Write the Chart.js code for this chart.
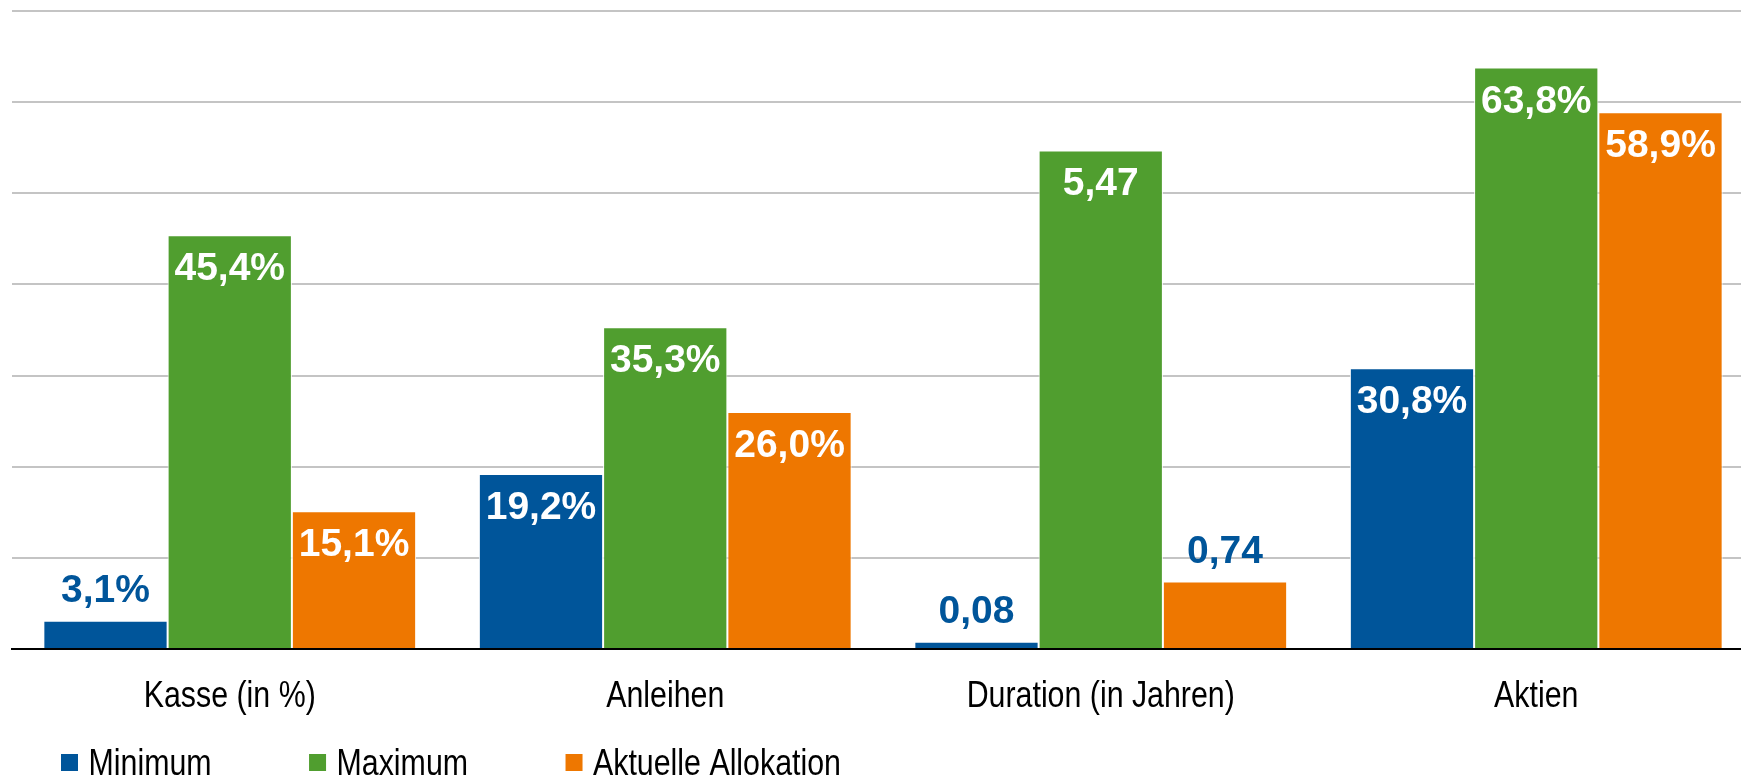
<!DOCTYPE html>
<html>
<head>
<meta charset="utf-8">
<script src="https://cdn.jsdelivr.net/npm/chart.js@4/dist/chart.umd.min.js"></script>
<style>
  html, body { margin: 0; padding: 0; background: #ffffff; overflow: hidden; }
  #wrap { width: 1741px; height: 778px; overflow: hidden; }
  canvas { display: block; }
</style>
</head>
<body>
<div id="wrap"><canvas id="c" width="1754" height="778"></canvas></div>
<script>
// ---- data ----
const categories = ['Kasse (in %)', 'Anleihen', 'Duration (in Jahren)', 'Aktien'];
const seriesNames = ['Minimum', 'Maximum', 'Aktuelle Allokation'];
const minimum = [3.1, 19.2, 0.08, 30.8];
const maximum = [45.4, 35.3, 5.47, 63.8];
const aktuell = [15.1, 26.0, 0.74, 58.9];
// Duration is in years; on the shared axis it is drawn ×10
const unitScale = [1, 1, 10, 1];
const isPercent = [true, true, false, true];
const yTicks = [0, 10, 20, 30, 40, 50, 60, 70];

const colors = ['#00559A', '#509E2F', '#EE7700'];
const labelBlue = '#00559A';
const SANS = "'Liberation Sans', Arial, sans-serif";
const NARROW_X = 0.82; // horizontal compression to mimic Arial Narrow

function fmt(v, i) {
  if (isPercent[i]) return v.toFixed(1).replace('.', ',') + '%';
  return v.toFixed(2).replace('.', ',');
}

const raw = [minimum, maximum, aktuell];
const datasets = raw.map((arr, s) => ({
  label: seriesNames[s],
  data: arr.map((v, i) => v * unitScale[i]),
  backgroundColor: colors[s],
  borderColor: '#ffffff',
  borderWidth: { top: 1, left: 1, right: 1, bottom: 0 },
  borderSkipped: 'bottom',
  barPercentage: 1.0,
  categoryPercentage: 0.856
}));

function narrowText(ctx, txt, x, y, align) {
  ctx.save();
  ctx.translate(x, y);
  ctx.scale(NARROW_X, 1);
  ctx.textAlign = align;
  ctx.fillText(txt, 0, 0);
  ctx.restore();
}

const valueLabels = {
  id: 'valueLabels',
  afterDatasetsDraw(chart) {
    const ctx = chart.ctx;
    ctx.save();
    ctx.font = 'bold 39px ' + SANS;
    ctx.textAlign = 'center';
    ctx.textBaseline = 'alphabetic';
    chart.data.datasets.forEach((ds, s) => {
      const meta = chart.getDatasetMeta(s);
      meta.data.forEach((el, i) => {
        const txt = fmt(raw[s][i], i);
        const h = el.base - el.y;
        if (h > 90) {
          ctx.fillStyle = '#ffffff';
          ctx.fillText(txt, el.x, el.y + 45);
        } else {
          ctx.fillStyle = labelBlue;
          ctx.fillText(txt, el.x, el.y - 19);
        }
      });
    });
    ctx.restore();
  }
};

const categoryLabels = {
  id: 'categoryLabels',
  afterDraw(chart) {
    const ctx = chart.ctx;
    const xs = chart.scales.x;
    ctx.save();
    ctx.font = '37px ' + SANS;
    ctx.fillStyle = '#000000';
    ctx.textBaseline = 'alphabetic';
    categories.forEach((c, i) => {
      narrowText(ctx, c, xs.getPixelForTick(i), 707, 'center');
    });
    ctx.restore();
  }
};

const customLegend = {
  id: 'customLegend',
  afterDraw(chart) {
    const ctx = chart.ctx;
    ctx.save();
    ctx.font = '37px ' + SANS;
    ctx.textBaseline = 'alphabetic';
    let x = 61;
    seriesNames.forEach((name, s) => {
      ctx.fillStyle = colors[s];
      ctx.fillRect(x, 754, 17, 17);
      ctx.fillStyle = '#000000';
      narrowText(ctx, name, x + 27.5, 775, 'left');
      x += 27.5 + ctx.measureText(name).width * NARROW_X + 97.5;
    });
    ctx.restore();
  }
};

new Chart(document.getElementById('c'), {
  type: 'bar',
  data: { labels: categories, datasets },
  options: {
    responsive: false,
    animation: false,
    devicePixelRatio: 1,
    layout: { padding: { top: 11, left: 12, right: 0, bottom: 0 } },
    plugins: { legend: { display: false }, tooltip: { enabled: false } },
    scales: {
      x: {
        grid: { display: false, drawTicks: false },
        border: { display: true, color: '#000000', width: 2 },
        ticks: { display: false },
        afterFit(scale) { scale.height = 129; }
      },
      y: {
        min: 0, max: 70,
        afterBuildTicks(scale) { scale.ticks = yTicks.map(v => ({ value: v })); },
        grid: { color: '#c4c4c4', lineWidth: 2, drawTicks: false },
        border: { display: false },
        ticks: { display: false },
        afterFit(scale) { scale.width = 0; }
      }
    }
  },
  plugins: [valueLabels, categoryLabels, customLegend]
});
</script>
</body>
</html>
